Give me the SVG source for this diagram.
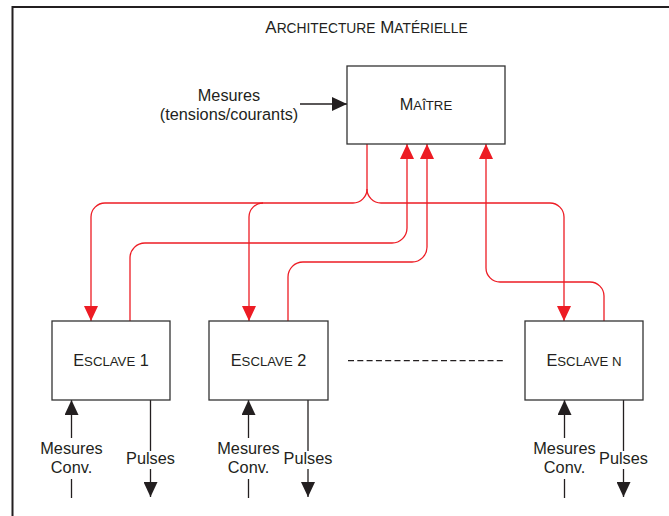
<svg xmlns="http://www.w3.org/2000/svg" width="669" height="516" viewBox="0 0 669 516">
<defs>
<style>
text{font-family:"Liberation Sans",Arial,sans-serif;fill:#231f20;font-size:16.3px}
.sc{font-size:13.2px}
.box{fill:#fff;stroke:#333;stroke-width:1.3}
.red{fill:none;stroke:#ed1c24;stroke-width:1.3}
.blk{fill:none;stroke:#231f20;stroke-width:1.3}
</style>
<marker id="ar" markerUnits="userSpaceOnUse" markerWidth="15" markerHeight="14" refX="15" refY="7" orient="auto" viewBox="0 0 15 14">
<path d="M0,0 L15,7 L0,14 z" fill="#ed1c24"/>
</marker>
<marker id="ab" markerUnits="userSpaceOnUse" markerWidth="15" markerHeight="14" refX="15" refY="7" orient="auto" viewBox="0 0 15 14">
<path d="M0,0 L15,7 L0,14 z" fill="#231f20"/>
</marker>
</defs>
<rect x="0" y="0" width="669" height="516" fill="#fff"/>
<rect x="12.5" y="7" width="700" height="560" fill="none" stroke="#231f20" stroke-width="2"/>
<text x="366.5" y="33" text-anchor="middle" style="font-size:16.9px">A<tspan style="font-size:13.8px">RCHITECTURE</tspan> M<tspan style="font-size:13.8px">ATÉRIELLE</tspan></text>

<g id="connectors">
<path class="blk" d="M300,104 H347" marker-end="url(#ab)"/>
<path class="red" d="M367,144 V189 A14,14 0 0 1 353,203 H105 A14,14 0 0 0 91,217 V321" marker-end="url(#ar)"/>
<path class="red" d="M263,203 A14,14 0 0 0 249,217 V321" marker-end="url(#ar)"/>
<path class="red" d="M367,189 A14,14 0 0 0 381,203 H550 A14,14 0 0 1 564,217 V321" marker-end="url(#ar)"/>
<path class="red" d="M130,321 V258 A15,15 0 0 1 145,243 H392 A15,15 0 0 0 407,228 V144" marker-end="url(#ar)"/>
<path class="red" d="M288,321 V277 A15,15 0 0 1 303,262 H412 A15,15 0 0 0 427,247 V144" marker-end="url(#ar)"/>
<path class="red" d="M604,321 V296 A14,14 0 0 0 590,282 H500 A14,14 0 0 1 486,268 V144" marker-end="url(#ar)"/>
<path class="blk" d="M348,360.7 H506" stroke-dasharray="6,3.3"/>
<path class="blk" d="M71.5,438 V400" marker-end="url(#ab)"/>
<path class="blk" d="M71.5,479 V498"/>
<path class="blk" d="M150.5,400 V451"/>
<path class="blk" d="M150.5,469 V497" marker-end="url(#ab)"/>
<path class="blk" d="M248.5,438 V400" marker-end="url(#ab)"/>
<path class="blk" d="M248.5,479 V498"/>
<path class="blk" d="M308,400 V451"/>
<path class="blk" d="M308,469 V497" marker-end="url(#ab)"/>
<path class="blk" d="M564.5,438 V400" marker-end="url(#ab)"/>
<path class="blk" d="M564.5,479 V498"/>
<path class="blk" d="M623.5,400 V451"/>
<path class="blk" d="M623.5,469 V497" marker-end="url(#ab)"/>
</g>

<g id="mesures-in">
<text x="229" y="101" text-anchor="middle">Mesures</text>
<text x="229" y="120" text-anchor="middle">(tensions/courants)</text>
</g>

<g id="maitre">
<rect class="box" x="347" y="66" width="158" height="78"/>
<text x="426" y="110" text-anchor="middle">M<tspan class="sc">AÎTRE</tspan></text>
</g>

<g id="esclave1">
<rect class="box" x="52" y="321" width="118" height="79"/>
<text x="111" y="366" text-anchor="middle">E<tspan class="sc">SCLAVE</tspan> 1</text>
</g>
<g id="esclave2">
<rect class="box" x="209" y="321" width="119" height="79"/>
<text x="268.5" y="366" text-anchor="middle">E<tspan class="sc">SCLAVE</tspan> 2</text>
</g>
<g id="esclaven">
<rect class="box" x="525" y="321" width="118" height="79"/>
<text x="584" y="366" text-anchor="middle">E<tspan class="sc">SCLAVE N</tspan></text>
</g>

<g id="labels">
<text x="71.5" y="454" text-anchor="middle">Mesures</text>
<text x="71.5" y="473" text-anchor="middle">Conv.</text>
<text x="150.5" y="464" text-anchor="middle">Pulses</text>
<text x="248.5" y="454" text-anchor="middle">Mesures</text>
<text x="248.5" y="473" text-anchor="middle">Conv.</text>
<text x="308" y="464" text-anchor="middle">Pulses</text>
<text x="564.5" y="454" text-anchor="middle">Mesures</text>
<text x="564.5" y="473" text-anchor="middle">Conv.</text>
<text x="623.5" y="464" text-anchor="middle">Pulses</text>
</g>
</svg>
